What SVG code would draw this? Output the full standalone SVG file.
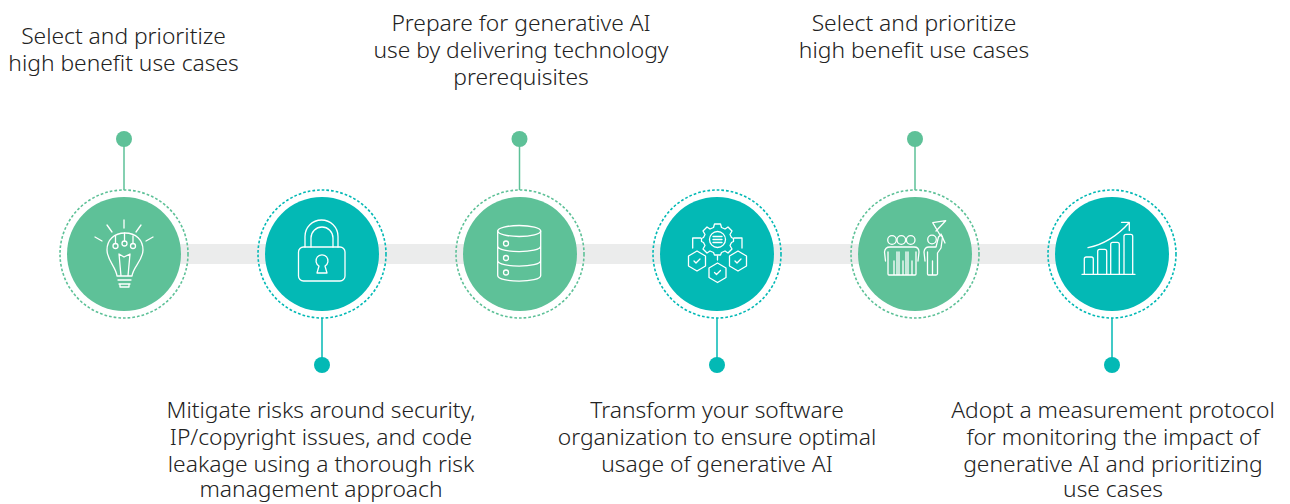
<svg xmlns="http://www.w3.org/2000/svg" width="1290" height="504" viewBox="0 0 1290 504">
<style>
.t{font-family:"Noto Sans","Open Sans",sans-serif;font-size:22.800px;font-weight:300;fill:#222;text-anchor:middle}
.g{fill:#5ec198}.b{fill:#03b9b5}
.rg{fill:none;stroke:#5ec198;stroke-width:1.600;stroke-dasharray:2.700 2}
.rb{fill:none;stroke:#03b9b5;stroke-width:1.600;stroke-dasharray:2.700 2}
.lg{stroke:#5ec198;stroke-width:1.500;fill:none}.lb{stroke:#03b9b5;stroke-width:1.500;fill:none}
.i{fill:none;stroke:#fff;stroke-width:1.300;stroke-linecap:round;stroke-linejoin:round}
</style>
<rect x="124" y="244" width="988" height="20" fill="#ebecec"/>
<g id="connectors">
<path class="lg" d="M124 139V190M519.500 139V190M915 139V190"/>
<path class="lb" d="M322 318V365M717 318V365M1112 318V365"/>
<circle class="g" cx="124" cy="139" r="8"/><circle class="g" cx="519.500" cy="139" r="8"/><circle class="g" cx="915" cy="139" r="8"/>
<circle class="b" cx="322" cy="365" r="8"/><circle class="b" cx="717" cy="365" r="8"/><circle class="b" cx="1112" cy="365" r="8"/>
</g>
<g id="node1"><circle class="rg" cx="124" cy="254" r="64"/><circle class="g" cx="124" cy="254" r="57"/>
<path class="i" d="M124 220V228M107 225L112 232M141 225L136 232M95 237L102 241M153 237L146 241"/>
<path class="i" d="M117 276C116 267 107 260 107 250C107 240 114 233 125 233C136 233 143 240 143 250C143 260 133 267 132 276ZM119 254L124 257L130 254L128 276H121ZM117 276H132M118 280H131M119 284H130M120 284V287H129V284"/>
<path class="i" d="M115.500 236V243.500M124.500 233V241M133 236V243.500"/>
<circle class="i" cx="115.500" cy="246" r="2.500"/><circle class="i" cx="124.500" cy="243.500" r="2.500"/><circle class="i" cx="133" cy="246" r="2.500"/>
<text class="t" x="123.500" y="44">Select and prioritize<tspan x="123.500" dy="27">high benefit use cases</tspan></text></g>
<g id="node2"><circle class="rb" cx="322" cy="254" r="64"/><circle class="b" cx="322" cy="254" r="57"/>
<rect class="i" x="298.500" y="247" width="46.500" height="34" rx="5"/>
<path class="i" d="M305 247V236.500A16.500 16.500 0 0 1 338 236.500V247M311 247V238A11 11 0 0 1 333 238V247"/>
<path class="i" d="M319 266A6 6 0 1 1 325 266L327 273H317Z"/>
<text class="t" x="321" y="418">Mitigate risks around security,<tspan x="321" dy="27">IP/copyright issues, and code</tspan><tspan x="321" dy="27">leakage using a thorough risk</tspan><tspan x="321" dy="25">management approach</tspan></text></g>
<g id="node3"><circle class="rg" cx="520" cy="254" r="64"/><circle class="g" cx="520" cy="254" r="57"/>
<ellipse class="i" cx="519.200" cy="231" rx="21.500" ry="5.500"/>
<path class="i" d="M497.700 231V275.500C497.700 283 540.700 283 540.700 275.500V231M497.700 246C497.700 253.500 540.700 253.500 540.700 246M497.700 260.500C497.700 268 540.700 268 540.700 260.500"/>
<circle class="i" cx="506" cy="243.500" r="2.500"/><circle class="i" cx="506" cy="258" r="2.500"/><circle class="i" cx="506" cy="272.500" r="2.500"/>
<text class="t" x="521" y="31">Prepare for generative AI<tspan x="521" dy="27">use by delivering technology</tspan><tspan x="521" dy="27">prerequisites</tspan></text></g>
<g id="node4"><circle class="rb" cx="717" cy="254" r="64"/><circle class="b" cx="717" cy="254" r="57"/>
<path class="i" d="M714.500 224H720.500L721.500 227.500L725 229L728 227L732 231L730 234.500L731.500 237.500L733.500 238.500V241.500L731.500 242.500L730 245.500L732 249L728 253L725 251L721.500 252.500L720.500 255H714.500L713.500 252.500L710 251L707 253L703 249L705 245.500L703.500 242.500L701.500 241.500V238.500L703.500 237.500L705 234.500L703 231L707 227L710 229L713.500 227.500Z"/>
<circle class="i" cx="717.500" cy="239.500" r="8"/><path class="i" d="M713 236.500H722M713 239.500H722M713 242.500H722"/>
<path class="i" d="M692.700 248V238H700.700M742 248V238H734M717.500 256V260"/>
<path class="i" d="M697 251L705.500 256V266L697 271L688.500 266V256ZM738 251L746.500 256V266L738 271L729.500 266V256ZM717.500 263L726 268V277.500L717.500 282.500L709 277.500V268Z"/>
<path class="i" d="M694 261L696 263L700 259M735 261L737 263L741 259M714.500 272.500L716.500 274.500L720.500 270.500"/>
<text class="t" x="717" y="418">Transform your software<tspan x="717" dy="27">organization to ensure optimal</tspan><tspan x="717" dy="27">usage of generative AI</tspan></text></g>
<g id="node5"><circle class="rg" cx="915" cy="254" r="64"/><circle class="g" cx="915" cy="254" r="57"/>
<circle class="i" cx="892" cy="240" r="4.300"/><circle class="i" cx="901.300" cy="240" r="4.300"/><circle class="i" cx="910.700" cy="240" r="4.300"/><circle class="i" cx="932" cy="239.500" r="4.300"/>
<path class="i" d="M885.500 261L884.500 252Q885 247 890 247H914Q919 247 919 252L918 261M888 252V274Q888 275 889 275H893Q894 275 894 274V261V274Q894 275 895 275H898Q899 275 899 274V252M897 252V274Q897 275 898 275H902Q903 275 903 274V261V274Q903 275 904 275H907Q908 275 908 274V252M906 252V274Q906 275 907 275H911Q912 275 912 274V261V274Q912 275 913 275H915Q916 275 916 274V252"/>
<path class="i" d="M925 261L924 252Q924.500 247 929 247H936L938.500 237Q941 234 942.500 237L941 248L937.500 253V274Q937 275 936 275H933.500Q932.500 275 932.500 274V261V274Q932.500 275 931.500 275H928.500Q927.500 275 927.500 274V252"/>
<path class="i" d="M940 235L932.700 222.700L945.700 220.700L936 231M941 234L945 243"/>
<text class="t" x="914" y="31">Select and prioritize<tspan x="914" dy="27">high benefit use cases</tspan></text></g>
<g id="node6"><circle class="rb" cx="1112" cy="254" r="64"/><circle class="b" cx="1112" cy="254" r="57"/>
<path class="i" d="M1082 274.300H1135M1084.300 274V259Q1084.300 257 1086.300 257H1091.300Q1093.300 257 1093.300 259V274M1097.700 274V251.300Q1097.700 249.300 1099.700 249.300H1104.700Q1106.700 249.300 1106.700 251.300V274M1110.700 274V244.300Q1110.700 242.300 1112.700 242.300H1117.300Q1119.300 242.300 1119.300 244.300V274M1124 274V236.300Q1124 234.300 1126 234.300H1130.700Q1132.700 234.300 1132.700 236.300V274"/>
<path class="i" d="M1088 247.700Q1111 243 1129.300 222.500M1121.500 222.300H1129.300V230.500"/>
<text class="t" x="1113" y="418">Adopt a measurement protocol<tspan x="1113" dy="27">for monitoring the impact of</tspan><tspan x="1113" dy="27">generative AI and prioritizing</tspan><tspan x="1113" dy="25">use cases</tspan></text></g>
</svg>
